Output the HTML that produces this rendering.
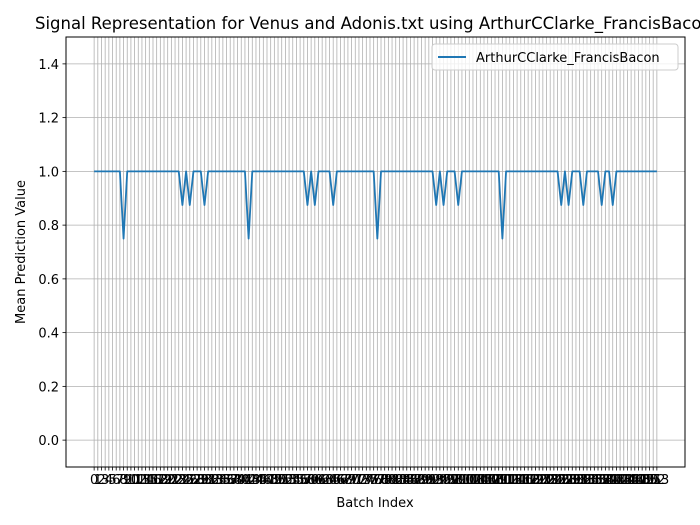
<!DOCTYPE html>
<html><head><meta charset="utf-8"><style>
html,body{margin:0;padding:0;background:#fff;}
svg{display:block;font-family:"DejaVu Sans","Liberation Sans",sans-serif;}
</style></head><body>
<svg id="chart" width="700" height="525" viewBox="0 0 700 525">
<rect width="700" height="525" fill="#fff"/>
<text x="35" y="29" font-size="16.5" text-anchor="start" fill="#000">Signal Representation for Venus and Adonis.txt using ArthurCClarke_FrancisBacon</text>
<g id="grid"></g>
<g id="series"></g>
<rect x="66" y="37" width="619" height="430" fill="none" stroke="#000" stroke-width="1"/>
<g id="xticks"></g>
<g id="yticks"></g>
<text x="375" y="507" font-size="13" text-anchor="middle">Batch Index</text>
<text transform="translate(25,252) rotate(-90)" font-size="13" text-anchor="middle">Mean Prediction Value</text>
<g>
<rect x="432" y="44" width="246" height="26" rx="3" fill="#fff" fill-opacity="0.8" stroke="#ccc"/>
<line x1="438" y1="57" x2="466" y2="57" stroke="#1f77b4" stroke-width="2"/>
<text x="476" y="62" font-size="13">ArthurCClarke_FrancisBacon</text>
</g>
</svg>
<script>
const seriesName = "ArthurCClarke_FrancisBacon";
const nPoints = 154;
const dips075 = [8, 42, 77, 111];
const dips0875 = [24, 26, 30, 58, 60, 65, 93, 95, 99, 127, 129, 133, 138, 141];
const yTickValues = [0.0, 0.2, 0.4, 0.6, 0.8, 1.0, 1.2, 1.4];
const yTickLabels = ["0.0", "0.2", "0.4", "0.6", "0.8", "1.0", "1.2", "1.4"];

const values = [];
for (let i = 0; i < nPoints; i++) values.push(1.0);
dips075.forEach(i => { values[i] = 0.75; });
dips0875.forEach(i => { values[i] = 0.875; });

const NS = "http://www.w3.org/2000/svg";
const L = 66, R = 685, T = 37, B = 467;
const xMin = -0.05 * (nPoints - 1), xMax = (nPoints - 1) * 1.05;
const yMin = -0.1, yMax = 1.5;
const xs = v => L + (v - xMin) / (xMax - xMin) * (R - L);
const ys = v => B - (v - yMin) / (yMax - yMin) * (B - T);

function mk(tag, attrs, parent) {
  const e = document.createElementNS(NS, tag);
  for (const k in attrs) e.setAttribute(k, attrs[k]);
  parent.appendChild(e);
  return e;
}
const grid = document.getElementById('grid');
const xt = document.getElementById('xticks');
const yt = document.getElementById('yticks');
for (let i = 0; i < nPoints; i++) {
  const x = xs(i);
  const g = mk('line', {x1: x, x2: x, y1: T, y2: B, stroke: '#b0b0b0', 'stroke-width': 0.8}, grid);
  
  
  const t = mk('line', {x1: x, x2: x, y1: B, y2: B + 3.5, stroke: '#000', 'stroke-width': 0.8}, xt);
  
  
  const lb = mk('text', {x: x, y: B + 17, 'font-size': 13, 'text-anchor': 'middle'}, xt);
  lb.textContent = String(i);
  
  
}
yTickValues.forEach((v, k) => {
  const y = ys(v);
  const g = mk('line', {x1: L, x2: R, y1: y, y2: y, stroke: '#b0b0b0', 'stroke-width': 0.8}, grid);
  
  
  const t = mk('line', {x1: L - 3.5, x2: L, y1: y, y2: y, stroke: '#000', 'stroke-width': 0.8}, yt);
  
  
  const lb = mk('text', {x: L - 7, y: y + 5, 'font-size': 13, 'text-anchor': 'end'}, yt);
  lb.textContent = yTickLabels[k];
  
  
});
const pts = values.map((v, i) => xs(i).toFixed(2) + ',' + ys(v).toFixed(2)).join(' ');
const line = mk('polyline', {points: pts, fill: 'none', stroke: '#1f77b4', 'stroke-width': 1.8, 'stroke-linejoin': 'round'}, document.getElementById('series'));


</script>
</body></html>
